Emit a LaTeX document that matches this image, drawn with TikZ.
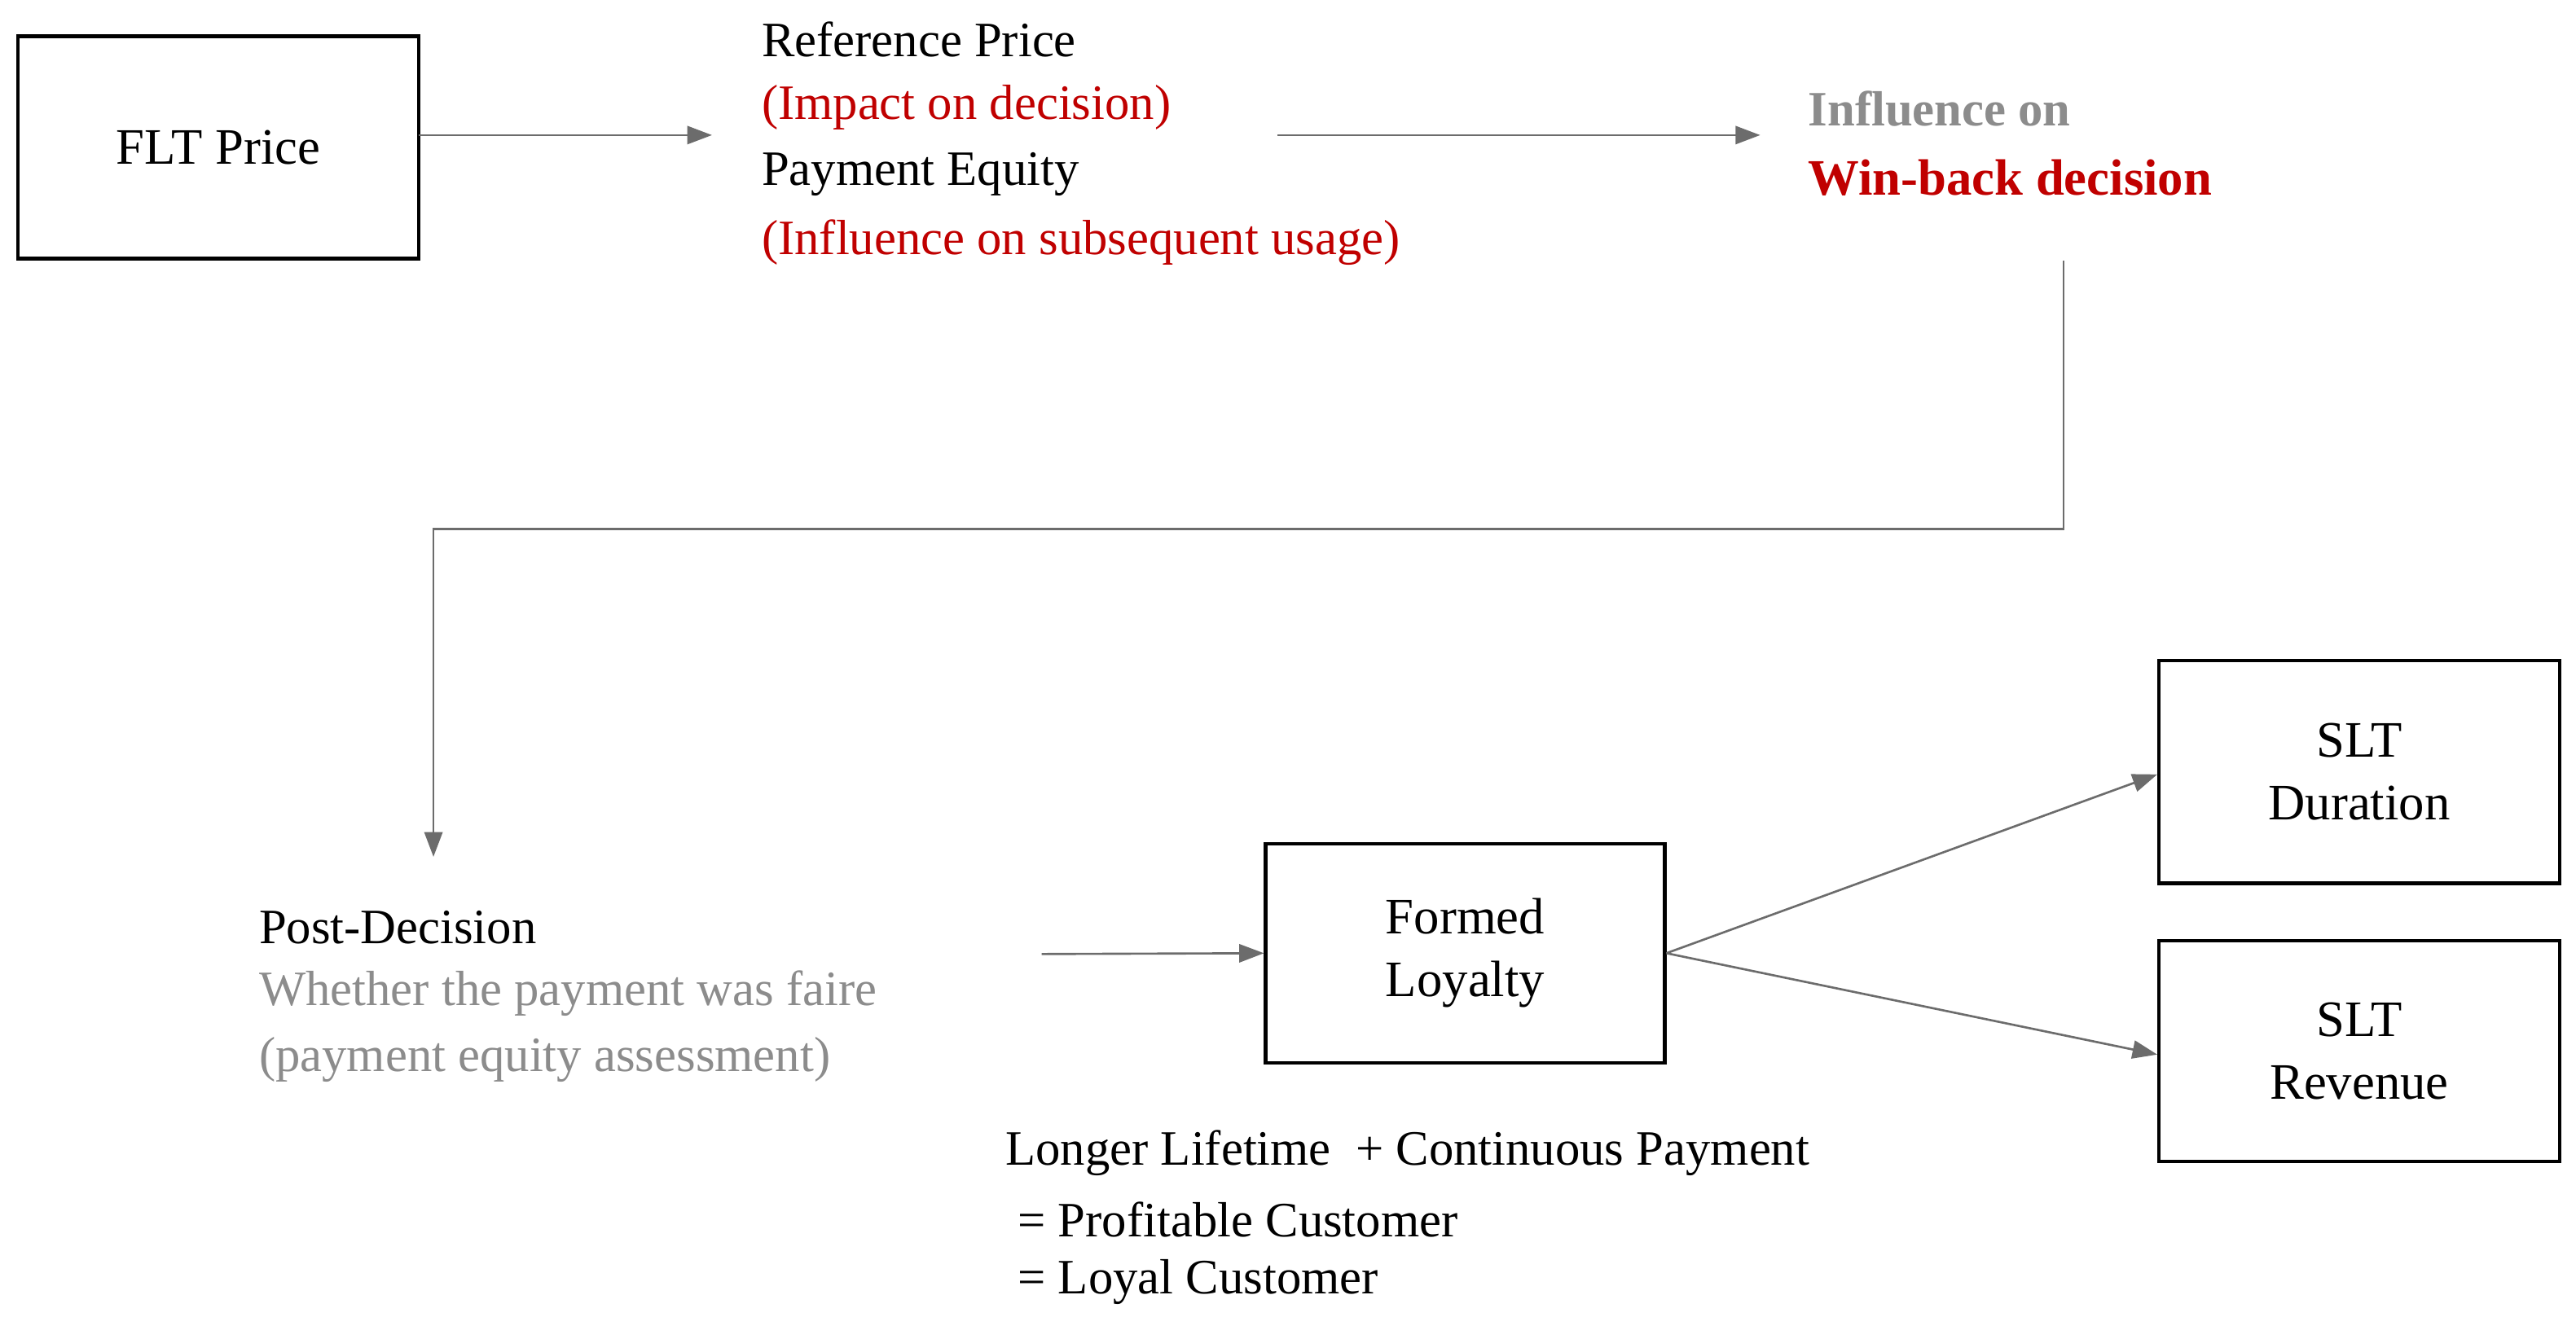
\documentclass[tikz,border=0pt]{standalone}
\usepackage{fontspec}
\setmainfont{Liberation Serif}
\usetikzlibrary{arrows.meta}
\definecolor{rd}{HTML}{C00000}
\definecolor{gt}{HTML}{8C8C8C}
\begin{document}
\begin{tikzpicture}[x=1pt,y=-1pt,
  box/.style={draw=black,line width=2.2pt,inner sep=0pt,align=center,font=\fontsize{31}{38}\selectfont},
  txt/.style={anchor=west,inner sep=0pt,font=\fontsize{30}{36}\selectfont},
  con/.style={draw=gray!85!black,line width=1.3pt,-{Triangle[length=15pt,width=11pt]}}]
\useasboundingbox[fill=white] (0,0) rectangle (1563,799);
\node[box,minimum width=243pt,minimum height=135pt] (flt) at (132.5,89.5) {FLT Price};
\node[txt] (rp) at (462,24) {Reference Price};
\node[txt,text=rd] (imp) at (462,65) {(Impact on decision)};
\node[txt] (pe) at (462,106) {Payment Equity};
\node[txt,text=rd] (inf) at (462,147) {(Influence on subsequent usage)};
\node[txt,text=gt,font=\bfseries\fontsize{30}{36}\selectfont] (io) at (1097,66) {Influence on};
\node[txt,text=rd,font=\bfseries\fontsize{31}{36}\selectfont] (wb) at (1097,108) {Win-back decision};
\node[txt] (pd) at (157,563) {Post-Decision};
\node[txt,text=gt] (wp) at (157,603) {Whether the payment was faire};
\node[txt,text=gt] (pa) at (157,643) {(payment equity assessment)};
\node[box,minimum width=242pt,minimum height=133pt] (fl) at (889,578.5) {Formed\\Loyalty};
\node[box,minimum width=243pt,minimum height=135pt] (sd) at (1431.5,468.5) {SLT\\Duration};
\node[box,minimum width=243pt,minimum height=134pt] (sr) at (1431.5,638) {SLT\\Revenue};
\node[txt] (b1) at (610,700) {Longer Lifetime\ \ + Continuous Payment};
\node[txt] (b2) at (610,740) {\ = Profitable Customer};
\node[txt] (b3) at (610,778) {\ = Loyal Customer};
\coordinate (a1s) at (254,82); \coordinate (a1e) at (432,82);
\coordinate (a2s) at (775,82); \coordinate (a2e) at (1068,82);
\coordinate (c1) at (1252,158); \coordinate (c2) at (1252,321); \coordinate (c3) at (263,321); \coordinate (c4) at (263,520);
\coordinate (a3s) at (632,579);
\draw[con] (a1s) -- (a1e);
\draw[con] (a2s) -- (a2e);
\draw[con] (c1) -- (c2) -- (c3) -- (c4);
\draw[con] (a3s) -- (fl.west);
\draw[con] (fl.east) -- (sd.west|-{0,470});
\draw[con] (fl.east) -- (sr.west|-{0,640});
\end{tikzpicture}
\end{document}
